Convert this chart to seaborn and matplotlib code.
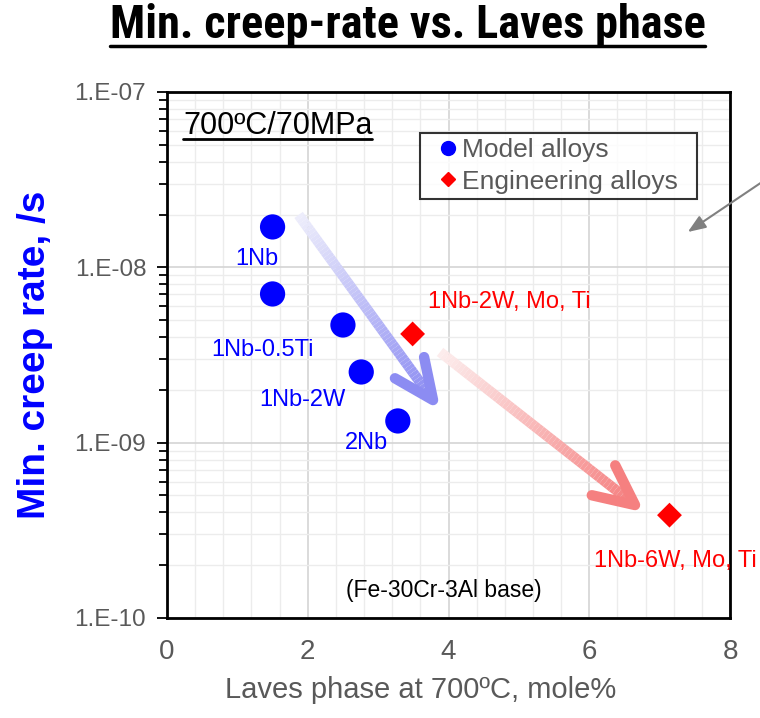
import numpy as np
import pandas as pd
import matplotlib
matplotlib.use("Agg")
import matplotlib.pyplot as plt
import seaborn as sns
from matplotlib import font_manager as fm
from matplotlib.collections import LineCollection
from matplotlib.lines import Line2D
from matplotlib.ticker import FixedLocator, FuncFormatter, MultipleLocator, LogLocator, NullFormatter

# ---- data ----
model_laves = [1.5, 1.5, 2.5, 2.76, 3.28]
model_rate = [1.70e-8, 7.05e-9, 4.69e-9, 2.53e-9, 1.33e-9]
eng_laves = [3.49, 7.14]
eng_rate = [4.17e-9, 3.86e-10]

model_labels = ["1Nb", "1Nb-0.5Ti", "1Nb-2W", "2Nb"]
model_label_pos = [(1.28, 1.11e-8), (1.35, 3.37e-9), (1.93, 1.75e-9), (2.83, 1.0e-9)]
eng_labels = ["1Nb-2W, Mo, Ti", "1Nb-6W, Mo, Ti"]
eng_label_pos = [(4.87, 6.34e-9), (7.22, 2.11e-10)]

x_ticks = [0, 2, 4, 6, 8]
y_ticks = [1e-10, 1e-9, 1e-8, 1e-7]

sns.set_theme(style="white")
plt.rcParams["font.family"] = ["Liberation Sans", "DejaVu Sans"]

df = pd.DataFrame({
    "laves": model_laves + eng_laves,
    "rate": model_rate + eng_rate,
    "group": ["Model alloys"] * len(model_laves) + ["Engineering alloys"] * len(eng_laves),
})

fig = plt.figure(figsize=(7.6, 7.18), dpi=100)
ax = fig.add_axes([167 / 760, 1 - 618 / 718, 563 / 760, 526 / 718])
ax.set_yscale("log")
ax.set_xlim(0, 8)
ax.set_ylim(1e-10, 1e-7)

# grid
ax.xaxis.set_major_locator(FixedLocator(x_ticks))
ax.xaxis.set_minor_locator(MultipleLocator(0.4))
ax.yaxis.set_major_locator(FixedLocator(y_ticks))
ax.yaxis.set_minor_locator(LogLocator(base=10, subs=np.arange(2, 10)))
ax.yaxis.set_minor_formatter(NullFormatter())
ax.grid(which="minor", color="#ececec", lw=1.0)
ax.grid(which="major", color="#d4d4d4", lw=1.2)
ax.set_axisbelow(True)

ax.yaxis.set_major_formatter(FuncFormatter(lambda v, p: "1.E-%02d" % round(-np.log10(v))))
ax.tick_params(axis="y", which="major", left=True, length=7, width=1.3, color="black",
               labelsize=17.5, labelcolor="#595959", pad=8)
ax.tick_params(axis="y", which="minor", left=True, length=6, width=1.3, color="black")
ax.tick_params(axis="x", which="both", bottom=False, labelsize=20, labelcolor="#595959", pad=9)
for s in ax.spines.values():
    s.set_color("black")
    s.set_linewidth(2)


def trend_arrow(start, tip, c0, c1, n=60, lw=7.5, arm_back=40, arm_side=18):
    (x0, y0), (x1, y1) = start, tip
    xs = np.linspace(x0, x1, n + 1)
    ys = np.logspace(np.log10(y0), np.log10(y1), n + 1)
    segs = [[(xs[i], ys[i]), (xs[i + 1], ys[i + 1])] for i in range(n)]
    c0, c1 = np.array(matplotlib.colors.to_rgb(c0)), np.array(matplotlib.colors.to_rgb(c1))
    cols = [c0 + (c1 - c0) * t for t in np.linspace(0, 1, n)]
    ax.add_collection(LineCollection(segs, colors=cols, linewidths=lw, capstyle="butt", zorder=2))
    # open chevron head built in pixel space
    p0 = ax.transData.transform(start)
    p1 = ax.transData.transform(tip)
    u = (p1 - p0) / np.hypot(*(p1 - p0))
    perp = np.array([-u[1], u[0]])
    a1 = p1 - arm_back * u + arm_side * perp
    a2 = p1 - arm_back * u - arm_side * perp
    pts = ax.transData.inverted().transform(np.array([a1, p1, a2]))
    ax.plot(pts[:, 0], pts[:, 1], color=cols[-1], lw=lw, solid_capstyle="round",
            solid_joinstyle="round", zorder=2)


trend_arrow((1.87, 1.99e-8), (3.78, 1.75e-9), "#ededfb", "#8c8cf2")
trend_arrow((3.88, 3.29e-9), (6.65, 4.41e-10), "#fcecec", "#f58080", arm_side=19)

sns.scatterplot(data=df[df.group == "Model alloys"], x="laves", y="rate", ax=ax,
                color="#0000ff", marker="o", s=330, edgecolor="none", zorder=3, legend=False)
sns.scatterplot(data=df[df.group == "Engineering alloys"], x="laves", y="rate", ax=ax,
                color="#ff0000", marker="D", s=160, edgecolor="none", zorder=3, legend=False)

ax.set_xlabel("Laves phase at 700ºC, mole%", fontsize=21, color="#595959")
ax.xaxis.label.set_va("center")
ax.xaxis.set_label_coords((421 - 167) / 563, (618 - 690) / 526)
ax.set_ylabel("Min. creep rate, /s", fontsize=28, color="#0000ff", fontweight="bold")
ax.yaxis.label.set_va("center")
ax.yaxis.set_label_coords((35 - 167) / 563, (618 - 355) / 526)

for t, (x, y) in zip(model_labels, model_label_pos):
    ax.text(x, y, t, fontsize=17, color="#0000ff", ha="center", va="center")
for t, (x, y) in zip(eng_labels, eng_label_pos):
    ax.text(x, y, t, fontsize=17, color="#ff0000", ha="center", va="center", clip_on=False)

ax.text(3.93, 1.44e-10, "(Fe-30Cr-3Al base)", fontsize=16.5, color="black", ha="center", va="center")

# test condition, underlined
fig.text(183 / 760, 1 - 134 / 718, "700ºC/70MPa", fontsize=22, color="black",
         ha="left", va="baseline")
fig.add_artist(Line2D([183 / 760, 372 / 760], [1 - 139 / 718] * 2, color="black", lw=2,
                      transform=fig.transFigure))

handles = [Line2D([], [], ls="none", marker="o", color="#0000ff", markersize=10),
           Line2D([], [], ls="none", marker="D", color="#ff0000", markersize=7)]
leg = ax.legend(handles, ["Model alloys", "Engineering alloys"], loc="upper left",
                bbox_to_anchor=((420 - 167) / 563, (618 - 200) / 526, 277 / 563, 67 / 526),
                mode="expand", fontsize=19, frameon=True, fancybox=False,
                handlelength=1.74, handletextpad=-0.34, borderpad=0.2, labelspacing=0.28,
                borderaxespad=0)
leg.get_frame().set_edgecolor("black")
leg.get_frame().set_linewidth(1.5)
for txt in leg.get_texts():
    txt.set_color("#595959")

# pointer arrow entering from the right edge
ax.annotate("", xy=(7.40, 1.59e-8), xycoords="data", xytext=(765, 718 - 180),
            textcoords="figure pixels",
            arrowprops=dict(arrowstyle="-|>,head_length=0.9,head_width=0.35", color="#808080",
                            lw=1.5, shrinkA=0, shrinkB=0), annotation_clip=False)

# title: prefer a narrow bold face, then fit it to the heading width
title_family, title_stretch = "Liberation Sans", "normal"
for fam, st in [("Liberation Sans Narrow", "normal"), ("Arial Narrow", "normal"),
                ("Roboto Condensed", "normal"), ("Noto Sans", "condensed"),
                ("DejaVu Sans", "condensed")]:
    try:
        path = fm.findfont(fm.FontProperties(family=fam, stretch=st, weight="bold"),
                           fallback_to_default=False)
    except ValueError:
        continue
    if "arrow" in path or "ondensed" in path:
        title_family, title_stretch = fam, st
        break

title_left, title_right = 110, 705
title = fig.text((title_left + title_right) / 2 / 760, 1 - 38 / 718,
                 "Min. creep-rate vs. Laves phase",
                 family=title_family, stretch=title_stretch, fontweight="bold",
                 fontsize=34, ha="center", va="baseline", color="black")
fig.canvas.draw()
w = title.get_window_extent().width
title.set_fontsize(34 * (title_right - title_left) / w)
fig.add_artist(Line2D([title_left / 760, title_right / 760], [1 - 46 / 718] * 2,
                      color="black", lw=2.5, transform=fig.transFigure))

fig.savefig("out.png", dpi=100, facecolor="white")
